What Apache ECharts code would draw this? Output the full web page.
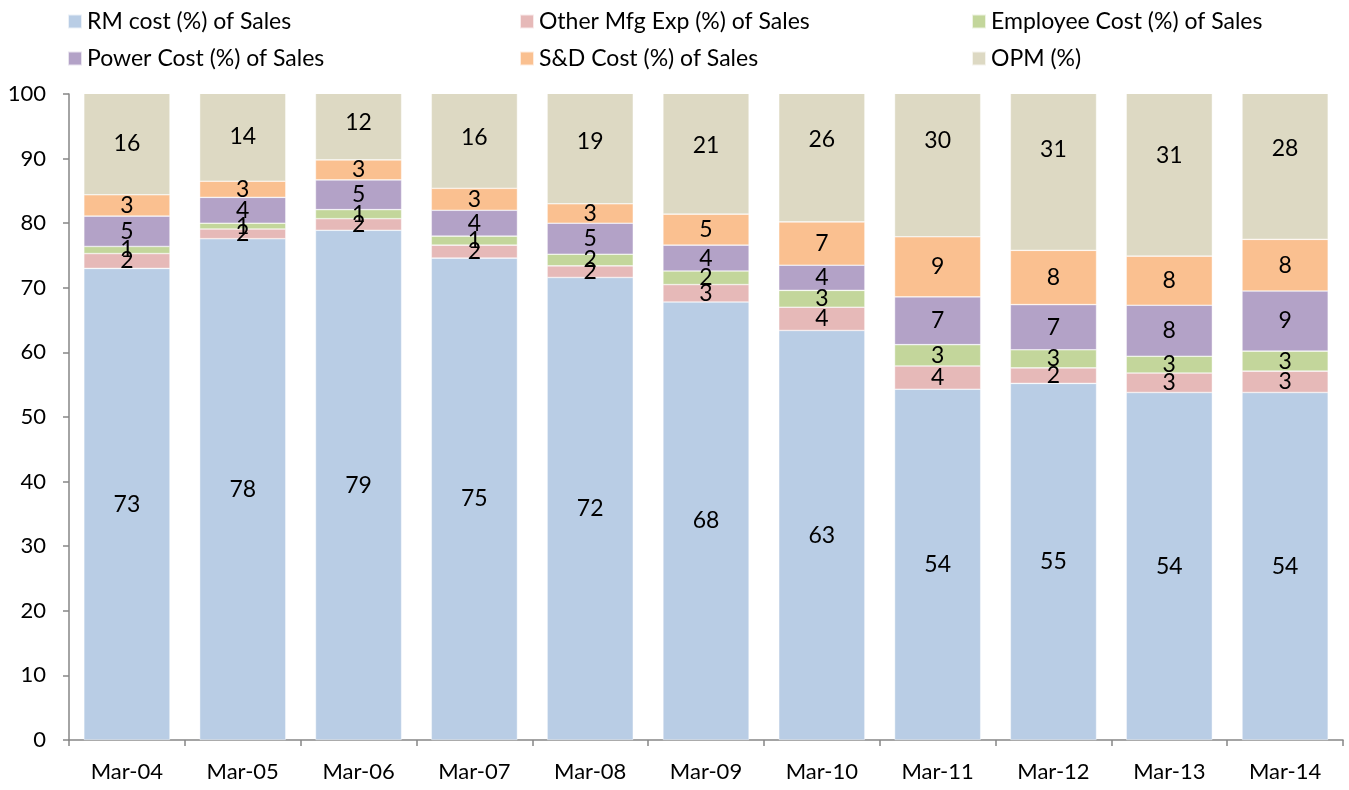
<!DOCTYPE html>
<html>
<head>
<meta charset="utf-8">
<script src="https://cdn.jsdelivr.net/npm/echarts@6/dist/echarts.min.js"></script>
<style>
  html, body { margin: 0; padding: 0; background: #fff; }
  #main { width: 1349px; height: 790px; }
</style>
</head>
<body>
<div id="main"></div>
<script>
var categories = ['Mar-04', 'Mar-05', 'Mar-06', 'Mar-07', 'Mar-08', 'Mar-09', 'Mar-10', 'Mar-11', 'Mar-12', 'Mar-13', 'Mar-14'];

var rmCost    = [73.0, 77.6, 78.9, 74.6, 71.6, 67.8, 63.4, 54.3, 55.2, 53.8, 53.8];
var otherMfg  = [2.3, 1.5, 1.8, 2.0, 1.8, 2.7, 3.6, 3.6, 2.4, 3.0, 3.3];
var employee  = [1.1, 0.9, 1.4, 1.4, 1.8, 2.1, 2.6, 3.3, 2.8, 2.6, 3.1];
var power     = [4.7, 4.0, 4.6, 4.0, 4.8, 4.0, 3.9, 7.4, 7.0, 7.9, 9.3];
var sdCost    = [3.3, 2.5, 3.1, 3.4, 3.0, 4.8, 6.7, 9.3, 8.4, 7.6, 8.0];
var opm       = [15.8, 13.7, 11.7, 15.8, 19.2, 21.1, 25.6, 29.8, 31.2, 31.0, 28.1];

var yTicks = { min: 0, max: 100, interval: 10 };

var FONT = 'Lato, "Open Sans", sans-serif';
var AXIS_COLOR = '#868686';

function makeSeries(name, data, color) {
    return {
        name: name,
        type: 'bar',
        stack: 'total',
        data: data,
        clip: false,
        barCategoryGap: '25.6%',
        itemStyle: { color: color, borderColor: 'rgba(255,255,255,0.7)', borderWidth: 0.6 },
        label: {
            show: true,
            position: 'inside',
            color: '#000',
            fontSize: 23,
            fontFamily: FONT,
            formatter: function (p) { return Math.round(p.value); }
        },
        emphasis: { disabled: true }
    };
}

function makeLegend(left, names) {
    return {
        orient: 'vertical',
        left: left,
        top: 5,
        itemWidth: 14,
        itemHeight: 14,
        itemGap: 14,
        icon: 'rect',
        selectedMode: false,
        z: 10,
        textStyle: { fontSize: 23, fontFamily: FONT, color: '#000' },
        data: names
    };
}

var myChart = echarts.init(document.getElementById('main'));

var option = {
    animation: false,
    backgroundColor: '#fff',
    legend: [
        makeLegend(62, ['RM cost (%) of Sales', 'Power Cost (%) of Sales']),
        makeLegend(514, ['Other Mfg Exp (%) of Sales', 'S&D Cost (%) of Sales']),
        makeLegend(966, ['Employee Cost (%) of Sales', 'OPM (%)'])
    ],
    // bars that go past 100 are cut at the top, like the original
    graphic: [{
        type: 'rect',
        z: 5,
        shape: { x: 75, y: 0, width: 1274, height: 94 },
        style: { fill: '#fff' },
        silent: true
    }],
    grid: { left: 69, right: 6, top: 94, bottom: 50 },
    xAxis: {
        type: 'category',
        data: categories,
        axisLine: { lineStyle: { color: AXIS_COLOR, width: 1.5 } },
        axisTick: { show: true, length: 6, lineStyle: { color: AXIS_COLOR, width: 1.5 } },
        axisLabel: { color: '#000', fontSize: 22, fontFamily: FONT, margin: 21 }
    },
    yAxis: {
        type: 'value',
        min: yTicks.min,
        max: yTicks.max,
        interval: yTicks.interval,
        splitLine: { show: false },
        axisLine: { show: true, lineStyle: { color: AXIS_COLOR, width: 1.5 } },
        axisTick: { show: true, length: 6, lineStyle: { color: AXIS_COLOR, width: 1.5 } },
        axisLabel: { color: '#000', fontSize: 22, fontFamily: FONT, margin: 23 }
    },
    series: [
        makeSeries('RM cost (%) of Sales', rmCost, '#b9cde5'),
        makeSeries('Other Mfg Exp (%) of Sales', otherMfg, '#e6b9b8'),
        makeSeries('Employee Cost (%) of Sales', employee, '#c3d69b'),
        makeSeries('Power Cost (%) of Sales', power, '#b3a2c7'),
        makeSeries('S&D Cost (%) of Sales', sdCost, '#fac090'),
        makeSeries('OPM (%)', opm, '#ddd9c3')
    ]
};

myChart.setOption(option);
</script>
</body>
</html>
